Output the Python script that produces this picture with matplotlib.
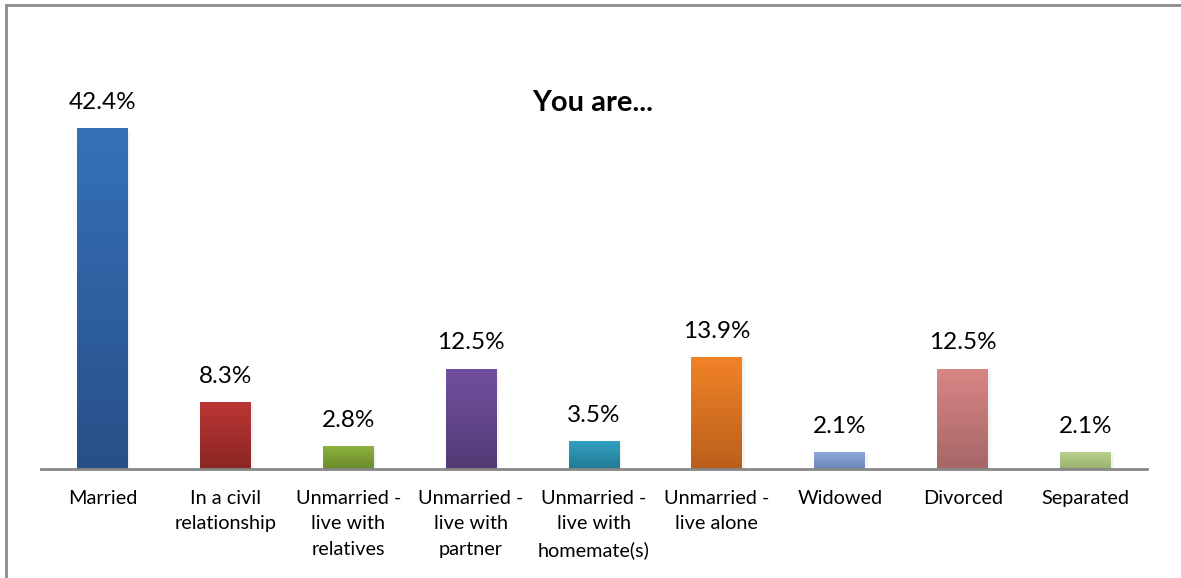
import matplotlib.pyplot as plt
import numpy as np
from matplotlib.colors import LinearSegmentedColormap
from matplotlib.lines import Line2D

plt.rcParams['font.family'] = ['Lato', 'DejaVu Sans']

categories = ['Married', 'In a civil\nrelationship', 'Unmarried -\nlive with\nrelatives',
              'Unmarried -\nlive with\npartner', 'Unmarried -\nlive with\nhomemate(s)',
              'Unmarried -\nlive alone', 'Widowed', 'Divorced', 'Separated']
values = [42.4, 8.3, 2.8, 12.5, 3.5, 13.9, 2.1, 12.5, 2.1]
# (top colour, bottom colour) of each bar's gradient
bar_colors = [('#3571b9', '#284f87'), ('#bb3634', '#8a2624'), ('#8db23e', '#6a8a2c'),
              ('#7250a0', '#523a75'), ('#33a3c2', '#217a91'), ('#f28327', '#b95f1b'),
              ('#8aa9d9', '#6c87b6'), ('#d98585', '#a66767'), ('#bad28e', '#97af6d')]

fig = plt.figure(figsize=(11.81, 5.78), dpi=100)
ax = fig.add_axes([41 / 1181, 109 / 578, 1106 / 1181, 402 / 578])

x = np.arange(len(values))
bars = ax.bar(x, values, width=0.415, color='none', zorder=2)
grad = np.linspace(1, 0, 256).reshape(-1, 1)
for bar, (top, bottom), val in zip(bars, bar_colors, values):
    x0, w = bar.get_x(), bar.get_width()
    # soft shadow to the right/below
    ax.bar(x0 + w / 2 + 0.02, val, width=w, bottom=-0.25, color='#000000',
           alpha=0.045, zorder=1)
    cmap = LinearSegmentedColormap.from_list('g', [bottom, top])
    im = ax.imshow(grad, cmap=cmap, aspect='auto', extent=(x0, x0 + w, 0, val),
                   origin='upper', zorder=2)
    im.set_clip_path(bar)
    ax.annotate(f'{val}%', (x0 + w / 2, val), xytext=(0, 11), textcoords='offset points',
                ha='center', va='bottom', fontsize=17.5, color='#000000')

ax.set_xlim(-0.5, len(values) - 0.5)
ax.set_ylim(0, 50)
ax.set_xticks(x)
ax.set_xticklabels(categories, fontsize=14.3, linespacing=1.6)
ax.tick_params(axis='x', length=0, pad=15)
ax.set_yticks([])
for side in ['top', 'right', 'left']:
    ax.spines[side].set_visible(False)
ax.spines['bottom'].set_color('#878787')
ax.spines['bottom'].set_linewidth(2)
ax.spines['bottom'].set_zorder(3)

fig.text(593 / 1181, 1 - 103 / 578, 'You are...', ha='center', va='center',
         fontsize=21, fontweight='bold')

# chart frame
fig.add_artist(Line2D([6 / 1181, 1], [1 - 5 / 578, 1 - 5 / 578], color='#8c8c8c', lw=2))
fig.add_artist(Line2D([6 / 1181, 6 / 1181], [0, 1 - 5 / 578], color='#8c8c8c', lw=2))

fig.savefig('out.png', dpi=100)
